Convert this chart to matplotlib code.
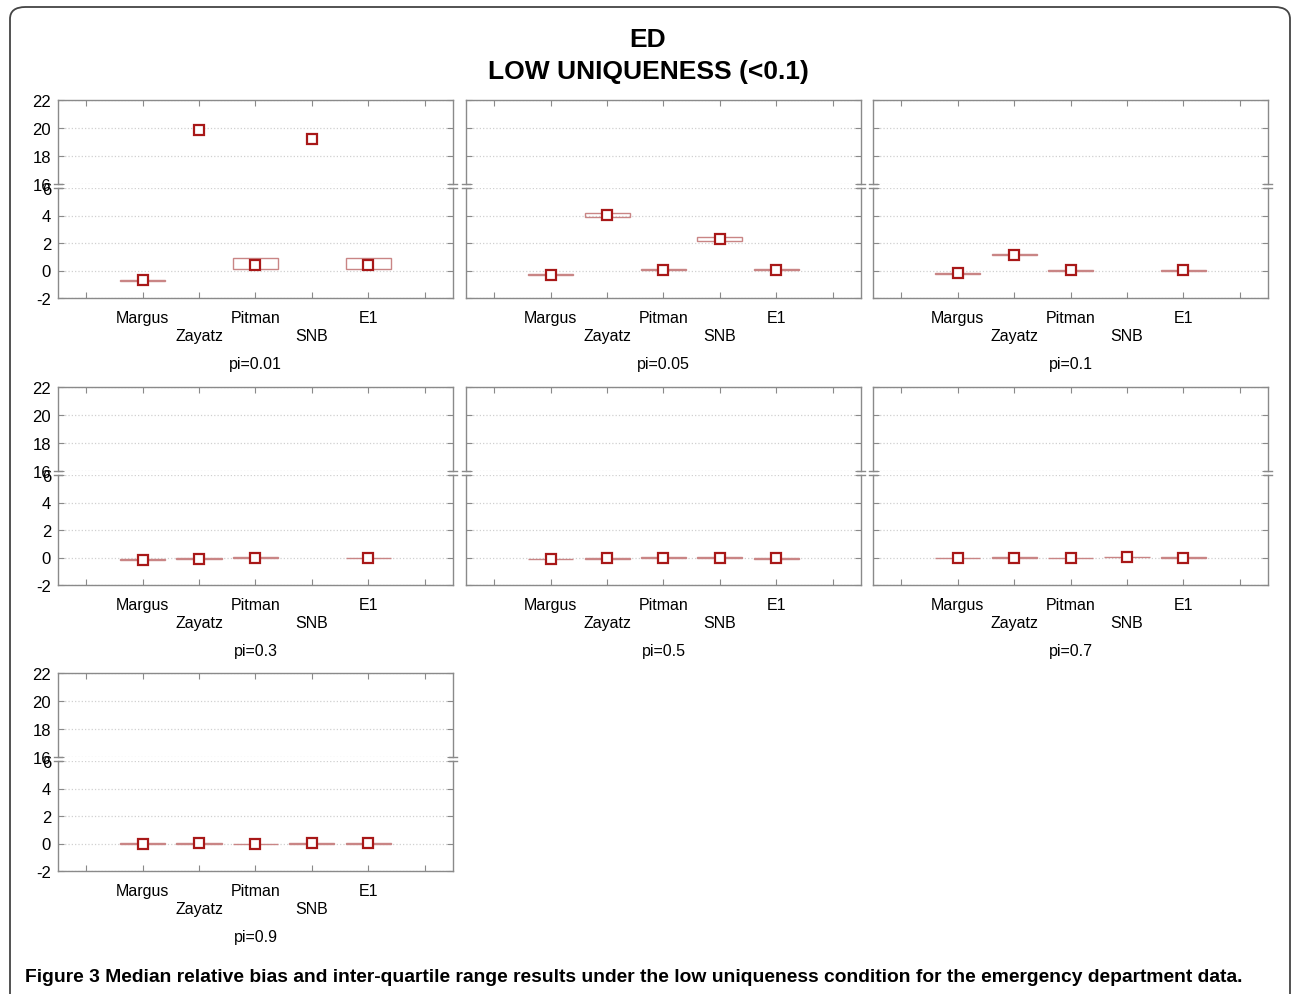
import numpy as np
import matplotlib
matplotlib.use("Agg")
import matplotlib.pyplot as plt
from matplotlib.patches import FancyBboxPatch

plt.rcParams['font.family'] = ['Liberation Sans', 'DejaVu Sans']
plt.rcParams['axes.unicode_minus'] = False

nan = np.nan
methods = ['Margus', 'Zayatz', 'Pitman', 'SNB', 'E1']
panels = ['pi=0.01', 'pi=0.05', 'pi=0.1', 'pi=0.3', 'pi=0.5', 'pi=0.7', 'pi=0.9']

# median relative bias per panel (rows) and method (columns)
median = [
    [-0.71, 19.88, 0.38, 19.18, 0.38],
    [-0.30, 4.05, 0.07, 2.32, 0.07],
    [-0.20, 1.16, 0.02, nan, 0.02],
    [-0.15, -0.08, 0.00, nan, -0.05],
    [-0.12, -0.06, 0.00, 0.00, -0.06],
    [-0.04, 0.00, -0.02, 0.03, 0.00],
    [0.00, 0.02, -0.03, 0.02, 0.01],
]
q1 = [
    [-0.74, nan, 0.12, nan, 0.12],
    [-0.34, 3.88, 0.04, 2.16, 0.04],
    [-0.23, 1.11, 0.00, nan, 0.00],
    [-0.17, -0.10, -0.02, nan, -0.07],
    [-0.14, -0.08, -0.02, -0.02, -0.08],
    [-0.06, -0.02, -0.04, 0.01, -0.02],
    [-0.02, 0.00, -0.05, 0.00, -0.01],
]
q3 = [
    [-0.68, nan, 0.93, nan, 0.93],
    [-0.27, 4.19, 0.10, 2.45, 0.10],
    [-0.17, 1.21, 0.04, nan, 0.04],
    [-0.13, -0.06, 0.02, nan, -0.03],
    [-0.10, -0.04, 0.02, 0.02, -0.04],
    [-0.02, 0.02, 0.00, 0.05, 0.02],
    [0.02, 0.04, -0.01, 0.04, 0.03],
]

upper_ticks = [16, 18, 20, 22]
lower_ticks = [-2, 0, 2, 4, 6]

W, H = 1292, 995
fig = plt.figure(figsize=(W / 100, H / 100), dpi=100)


def px_axes(x0, y0, x1, y1):
    return fig.add_axes([x0 / W, 1 - y1 / H, (x1 - x0) / W, (y1 - y0) / H])


box_col = '#c98585'
med_col = '#a81818'
spine_col = '#8a8a8a'
cols = [(58, 453), (466, 861), (873, 1268)]
rows = [101, 388, 674]
xpos = np.arange(2, 7)

for i, name in enumerate(panels):
    x0, x1 = cols[i % 3]
    top = rows[i // 3]
    ax_u = px_axes(x0, top, x1, top + 84)
    ax_l = px_axes(x0, top + 88, x1, top + 198)
    med = np.array(median[i], dtype=float)
    lo = np.array(q1[i], dtype=float)
    hi = np.array(q3[i], dtype=float)
    for ax, (ymin, ymax), ticks in [(ax_u, (16, 22), upper_ticks),
                                    (ax_l, (-2, 6), lower_ticks)]:
        ax.bar(xpos, hi - lo, bottom=lo, width=0.8, fill=False,
               edgecolor=box_col, linewidth=1.0, zorder=2)
        ax.plot(xpos, med, ls='none', marker='s', ms=7, mfc='white',
                mec=med_col, mew=1.6, zorder=3)
        ax.set_xlim(0.5, 7.5)
        ax.set_ylim(ymin, ymax)
        ax.set_yticks(ticks)
        ax.set_xticks(range(1, 8))
        ax.grid(axis='y', ls=':', color='#d0d0d0', lw=0.9)
        ax.set_axisbelow(True)
        for s in ax.spines.values():
            s.set_color(spine_col)
            s.set_linewidth(1.0)
        ax.tick_params(direction='in', length=4, color=spine_col,
                       labelsize=12, left=True, right=True, pad=5)
        if i % 3 != 0:
            ax.tick_params(axis='y', labelleft=False)
    ax_u.spines['bottom'].set_visible(False)
    ax_l.spines['top'].set_visible(False)
    ax_u.tick_params(axis='x', top=True, bottom=False, labelbottom=False)
    ax_l.tick_params(axis='x', top=False, bottom=True)
    ax_l.set_xticklabels(['', 'Margus', '\nZayatz', 'Pitman', '\nSNB', 'E1', ''],
                         fontsize=11.5, linespacing=1.3)
    ax_l.tick_params(axis='x', pad=8.5)
    ax_l.set_xlabel(name, fontsize=11.5, labelpad=9)

    # break marks on both spines
    for ax, yy in [(ax_u, 0.0), (ax_l, 1.0)]:
        for xx in (0.0, 1.0):
            ax.plot([xx - 0.01, xx + 0.01], [yy, yy], transform=ax.transAxes,
                    color=spine_col, lw=1.0, clip_on=False)

fig.text(648 / W, 1 - 40 / H, 'ED', ha='center', va='center',
         fontsize=19, fontweight='bold')
fig.text(648 / W, 1 - 72 / H, 'LOW UNIQUENESS (<0.1)', ha='center',
         va='center', fontsize=19, fontweight='bold')

fig.text(25 / W, 1 - 978 / H,
         'Figure 3 Median relative bias and inter-quartile range results under '
         'the low uniqueness condition for the emergency department data.',
         ha='left', va='center', fontsize=13.9, fontweight='bold')

frame = FancyBboxPatch((10 / W, -0.05), 1280 / W, 1 - 8 / H + 0.05,
                       boxstyle='round,pad=0,rounding_size=0.012',
                       transform=fig.transFigure, fill=False,
                       edgecolor='#444444', linewidth=1.3)
fig.patches.append(frame)

fig.savefig('out.png', dpi=100)
